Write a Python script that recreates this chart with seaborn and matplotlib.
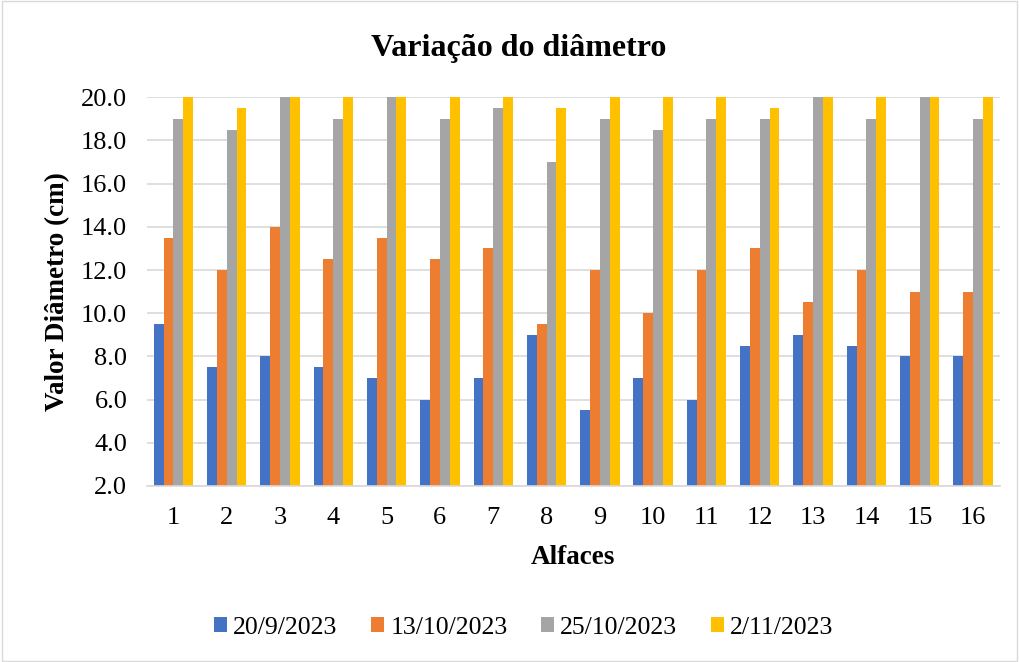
import matplotlib
matplotlib.use("Agg")
import matplotlib.pyplot as plt
import seaborn as sns
import pandas as pd
from matplotlib.patches import Rectangle

alfaces = [str(i) for i in range(1, 17)]
dates = ["20/9/2023", "13/10/2023", "25/10/2023", "2/11/2023"]
d1 = [9.5, 7.5, 8.0, 7.5, 7.0, 6.0, 7.0, 9.0, 5.5, 7.0, 6.0, 8.5, 9.0, 8.5, 8.0, 8.0]
d2 = [13.5, 12.0, 14.0, 12.5, 13.5, 12.5, 13.0, 9.5, 12.0, 10.0, 12.0, 13.0, 10.5, 12.0, 11.0, 11.0]
d3 = [19.0, 18.5, 20.0, 19.0, 20.0, 19.0, 19.5, 17.0, 19.0, 18.5, 19.0, 19.0, 20.0, 19.0, 20.0, 19.0]
d4 = [20.0, 19.5, 20.0, 20.0, 20.0, 20.0, 20.0, 19.5, 20.0, 20.0, 20.0, 19.5, 20.0, 20.0, 20.0, 20.0]
colors = ["#4472C4", "#ED7D31", "#A5A5A5", "#FFC000"]
yticks = [2.0, 4.0, 6.0, 8.0, 10.0, 12.0, 14.0, 16.0, 18.0, 20.0]

rows = []
for date, vals in zip(dates, [d1, d2, d3, d4]):
    for a, v in zip(alfaces, vals):
        rows.append({"Alfaces": a, "Data": date, "Valor": v})
df = pd.DataFrame(rows)

sns.set_theme(style="white")
plt.rcParams["font.family"] = ["Liberation Serif", "DejaVu Serif"]
plt.rcParams.update({"text.color": "black", "axes.labelcolor": "black",
                     "xtick.color": "black", "ytick.color": "black"})

fig = plt.figure(figsize=(10.19, 6.62), dpi=100)
ax = fig.add_axes([0.144, 0.266, 0.837, 0.587])
sns.barplot(data=df, x="Alfaces", y="Valor", hue="Data", hue_order=dates,
            order=alfaces, palette=colors, width=0.74, gap=0, ax=ax,
            saturation=1, edgecolor="none", legend=True)
ax.set_ylim(2, 20)
ax.set_yticks(yticks)
ax.set_yticklabels([f"{t:.1f}" for t in yticks], fontsize=19)
ax.tick_params(axis="x", labelsize=19, length=0, pad=15)
ax.tick_params(axis="y", length=0, pad=14)
ax.set_xlim(-0.5, 15.5)
ax.yaxis.grid(True, color="#D9D9D9", linewidth=1.2)
ax.set_axisbelow(True)
for s in ["top", "right", "left"]:
    ax.spines[s].set_visible(False)
ax.spines["bottom"].set_color("#D9D9D9")
ax.spines["bottom"].set_linewidth(1.2)
ax.set_xlabel("Alfaces", fontsize=19.5, fontweight="bold", labelpad=12)
ax.set_ylabel("Valor Diâmetro (cm)", fontsize=19.5, fontweight="bold", labelpad=8)
fig.suptitle("Variação do diâmetro", fontsize=23, fontweight="bold", x=0.509, y=0.948)

handles, labels = ax.get_legend_handles_labels()
ax.legend_.remove()
fig.legend(handles, labels, loc="center", bbox_to_anchor=(0.514, 0.052), ncol=4,
           frameon=False, fontsize=18.5, handlelength=0.5, handleheight=0.5,
           handletextpad=0.25, columnspacing=1.3)

fig.add_artist(Rectangle((0.002, 0.002), 0.996, 0.996, transform=fig.transFigure,
                         fill=False, edgecolor="#D9D9D9", linewidth=1))
fig.savefig("out.png", dpi=100)
